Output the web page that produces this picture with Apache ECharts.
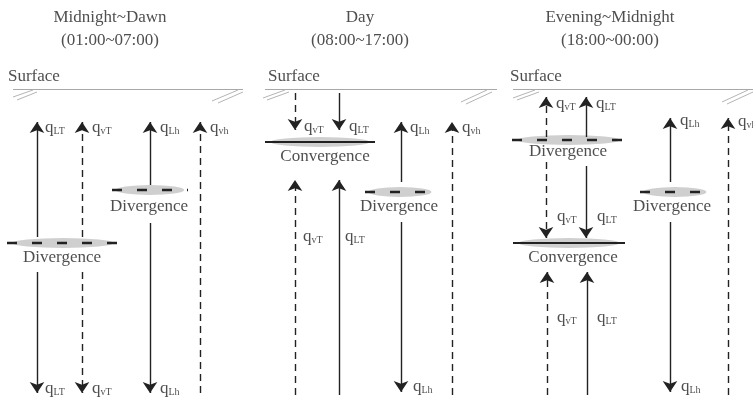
<!DOCTYPE html>
<html><head><meta charset="utf-8">
<script src="https://cdn.jsdelivr.net/npm/echarts@6/dist/echarts.min.js"></script>
<style>html,body{margin:0;padding:0;background:#fff}#c{width:753px;height:401px}</style>
</head><body><div id="c"></div>
<script>
// ---- diagram data (diagram units: x across, y depth down from top) ----
const panelTitles = ['Midnight~Dawn', 'Day', 'Evening~Midnight'];
const panelPeriods = ['(01:00~07:00)', '(08:00~17:00)', '(18:00~00:00)'];
const panelCenters = [110, 360, 610];
const surfaceLabelX = [8, 268, 510];
const surfaceRanges = [[13, 243], [265, 497], [513, 753]];
const surfaceY = 89;
const hatchSegments = [
  [13, 97, 33, 90], [17, 100, 37, 92],
  [212, 101, 238, 90], [218, 103, 243, 92],
  [263, 98, 285, 90], [267, 100, 289, 92],
  [461, 102, 487, 90], [466, 104, 492, 92],
  [513, 98, 535, 90], [517, 100, 539, 92],
  [722, 102, 748, 90], [727, 104, 753, 92]
];
// arrows: [x, from y, to y] (arrowhead at "to")
const solidArrows = [
  [37, 237, 122], [37, 272, 393], [150, 185, 122], [150, 223, 393],
  [339, 93, 130], [339, 395, 180], [401, 182, 122], [401, 222, 392],
  [586, 137, 97], [586, 166, 238], [587, 395, 272], [670, 182, 118], [670, 222, 392]
];
const dashedArrows = [
  [82, 237, 122], [82, 272, 393], [200, 393, 122],
  [295, 93, 130], [295, 395, 180], [452, 395, 122],
  [546, 137, 97], [546, 162, 238], [547, 395, 272], [728, 395, 118]
];
// flux labels: [x, y, subscript]
const fluxLabels = [
  [45, 128, 'LT'], [92, 128, 'vT'], [160, 128, 'Lh'], [210, 128, 'vh'],
  [45, 389, 'LT'], [92, 389, 'vT'], [160, 389, 'Lh'],
  [304, 127, 'vT'], [349, 127, 'LT'], [410, 128, 'Lh'], [462, 128, 'vh'],
  [303, 237, 'vT'], [345, 237, 'LT'], [413, 387, 'Lh'],
  [556, 104, 'vT'], [596, 104, 'LT'], [680, 121, 'Lh'], [738, 122, 'vh'],
  [557, 217, 'vT'], [597, 217, 'LT'], [557, 318, 'vT'], [597, 318, 'LT'],
  [681, 387, 'Lh']
];
// zones: [line x1, line x2, y, kind, label x, label y]
const zones = [
  [7, 119, 243, 'Divergence', 62, 258],
  [112, 188, 190, 'Divergence', 149, 207],
  [265, 375, 142, 'Convergence', 325, 157],
  [365, 435, 192, 'Divergence', 399, 207],
  [512, 625, 140, 'Divergence', 568, 152],
  [513, 625, 243, 'Convergence', 573, 258],
  [640, 710, 192, 'Divergence', 672, 207]
];

const FONT = '"Liberation Serif", "Times New Roman", serif';
const INK = '#222';

function arrowData(list) {
  return list.map(a => ({ coords: [[a[0], a[1]], [a[0], a[2]]] }));
}

const centeredTexts = [];
panelTitles.forEach((t, i) => {
  centeredTexts.push({ value: [panelCenters[i], 18], name: t });
  centeredTexts.push({ value: [panelCenters[i], 41], name: panelPeriods[i] });
});
zones.forEach(z => centeredTexts.push({ value: [z[4], z[5]], name: z[3] }));

const option = {
  animation: false,
  grid: { left: 0, right: 0, top: 0, bottom: 0 },
  xAxis: { type: 'value', min: 0, max: 753, show: false },
  yAxis: { type: 'value', min: 0, max: 401, inverse: true, show: false },
  series: [
    { // surface lines
      type: 'lines', coordinateSystem: 'cartesian2d', silent: true,
      lineStyle: { color: '#a8a8a8', width: 1.2, opacity: 1 },
      symbol: 'none',
      data: surfaceRanges.map(r => ({ coords: [[r[0], surfaceY], [r[1], surfaceY]] }))
    },
    { // hatch
      type: 'lines', coordinateSystem: 'cartesian2d', silent: true,
      lineStyle: { color: '#b4b4b4', width: 1, opacity: 1 },
      symbol: 'none',
      data: hatchSegments.map(h => ({ coords: [[h[0], h[1]], [h[2], h[3]]] }))
    },
    { // zone ellipses
      type: 'scatter', silent: true, z: 2,
      itemStyle: { color: 'rgba(185,185,185,0.85)' },
      data: zones.map(z => ({ value: [(z[0] + z[1]) / 2, z[2]], symbolSize: [(z[1] - z[0]) * 0.9, 10] }))
    },
    { // divergence dashed line
      type: 'lines', coordinateSystem: 'cartesian2d', silent: true, z: 3,
      lineStyle: { color: INK, width: 2.4, type: [10, 15], opacity: 1 },
      symbol: 'none',
      data: zones.filter(z => z[3] === 'Divergence').map(z => ({ coords: [[z[0], z[2]], [z[1], z[2]]] }))
    },
    { // convergence solid line
      type: 'lines', coordinateSystem: 'cartesian2d', silent: true, z: 3,
      lineStyle: { color: INK, width: 2, opacity: 1 },
      symbol: 'none',
      data: zones.filter(z => z[3] === 'Convergence').map(z => ({ coords: [[z[0], z[2]], [z[1], z[2]]] }))
    },
    { // solid arrows
      type: 'lines', coordinateSystem: 'cartesian2d', silent: true, z: 4,
      lineStyle: { color: INK, width: 1.4, opacity: 1 },
      symbol: ['none', 'arrow'], symbolSize: 11,
      data: arrowData(solidArrows)
    },
    { // dashed arrows
      type: 'lines', coordinateSystem: 'cartesian2d', silent: true, z: 4,
      lineStyle: { color: INK, width: 1.4, type: [7, 5], opacity: 1 },
      symbol: ['none', 'arrow'], symbolSize: 11,
      data: arrowData(dashedArrows)
    },
    { // centered texts
      type: 'scatter', silent: true, symbolSize: 0, z: 5,
      data: centeredTexts,
      label: {
        show: true, position: 'inside', formatter: p => p.name,
        fontFamily: FONT, fontSize: 17, color: INK
      }
    },
    { // surface labels
      type: 'scatter', silent: true, symbolSize: 0, z: 5,
      data: surfaceLabelX.map(x => ({ value: [x, 77], name: 'Surface' })),
      label: {
        show: true, position: 'right', distance: 0, formatter: p => p.name,
        fontFamily: FONT, fontSize: 17, color: INK
      }
    },
    { // flux labels
      type: 'scatter', silent: true, symbolSize: 0, z: 5,
      data: fluxLabels.map(f => ({ value: [f[0], f[1]], name: f[2] })),
      labelLayout: { hideOverlap: false },
      label: {
        show: true, position: 'right', distance: 0,
        formatter: p => '{q|q}{s|' + p.name + '}',
        rich: {
          q: { fontFamily: FONT, fontSize: 17, color: INK },
          s: { fontFamily: FONT, fontSize: 10, color: INK, verticalAlign: 'bottom' }
        }
      }
    }
  ]
};
echarts.init(document.getElementById('c'), null, { renderer: 'canvas' }).setOption(option);
</script>
</body></html>
